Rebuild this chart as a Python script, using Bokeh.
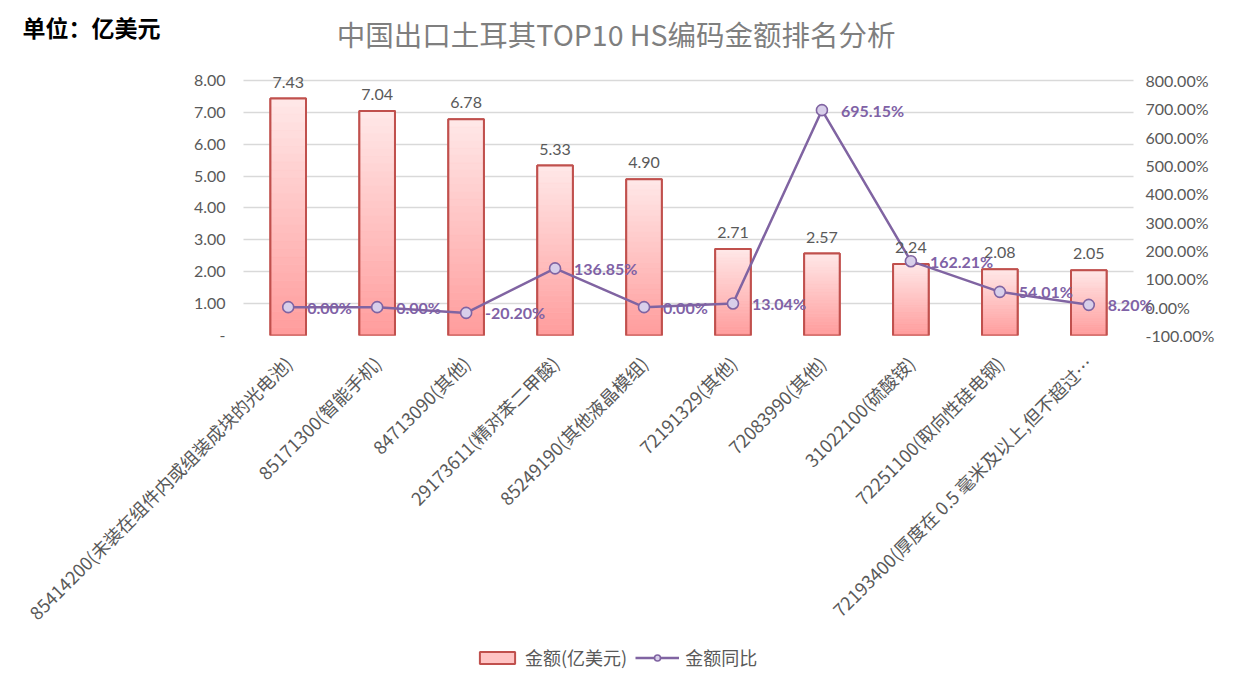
import math
from bokeh.plotting import figure
from bokeh.layouts import column
from bokeh.core.properties import value
from bokeh.models import (ColumnDataSource, FactorRange, Range1d, LinearAxis, FixedTicker,
                          PrintfTickFormatter, LabelSet, Label, Legend, LegendItem)
from bokeh.embed import file_html
from bokeh.resources import INLINE

# ---------------- data ----------------
categories = [
    "85414200(未装在组件内或组装成块的光电池)",
    "85171300(智能手机)",
    "84713090(其他)",
    "29173611(精对苯二甲酸)",
    "85249190(其他液晶模组)",
    "72191329(其他)",
    "72083990(其他)",
    "31022100(硫酸铵)",
    "72251100(取向性硅电钢)",
    "72193400(厚度在 0.5 毫米及以上,但不超过…",
]
amounts = [7.43, 7.04, 6.78, 5.33, 4.90, 2.71, 2.57, 2.24, 2.08, 2.05]
yoy = [0.00, 0.00, -20.20, 136.85, 0.00, 13.04, 695.15, 162.21, 54.01, 8.20]
left_ticks = [0, 1, 2, 3, 4, 5, 6, 7, 8]
right_ticks = [-100, 0, 100, 200, 300, 400, 500, 600, 700, 800]
title_text = "中国出口土耳其TOP10 HS编码金额排名分析"
unit_text = "单位：亿美元"
legend_bar = "金额(亿美元)"
legend_line = "金额同比"

# ---------------- styling ----------------
CJK = "Noto Sans CJK SC"
NUM = "Lato"
GRAY = "#595959"
BAR_LINE = "#C0504D"
LINE_C = "#8064A2"
BAR_FILL = "#FFC4C4"
PT_FILL = "#D8CFEA"
W = 1217
BL, BR = 221, 59          # side borders shared by all three figures
HEAD_H, MAIN_H, FOOT_H = 64, 580, 31
HEAD_B = 12


def bare(fig):
    fig.outline_line_color = None
    fig.xgrid.visible = False
    fig.ygrid.visible = False


# ---------------- header (unit + title) ----------------
head = figure(width=W, height=HEAD_H, title=None, x_range=Range1d(BL, W - BR),
              y_range=Range1d(HEAD_H - HEAD_B, 0), x_axis_type=None,
              output_backend="svg", toolbar_location=None,
              min_border_left=BL, min_border_right=BR, min_border_top=0,
              min_border_bottom=HEAD_B)
bare(head)
hy = head.yaxis[0]
hy.ticker = FixedTicker(ticks=[])
hy.axis_line_color = None
hy.major_tick_line_color = None
hy.minor_tick_line_color = None
hy.axis_label = unit_text
hy.axis_label_orientation = "horizontal"
hy.axis_label_standoff = 61
hy.axis_label_text_font = CJK
hy.axis_label_text_font_size = "23px"
hy.axis_label_text_font_style = "bold"
hy.axis_label_text_color = "#000000"
head.add_layout(Label(x=617, y=33, text=title_text, text_align="center",
                      text_baseline="middle", text_font=CJK, text_font_size="28.5px",
                      text_color="#7F7F7F"))

# ---------------- main chart ----------------
p = figure(width=W, height=MAIN_H, title=None,
           x_range=FactorRange(factors=categories, range_padding=0.05),
           y_range=Range1d(0, 8.5),
           output_backend="svg", toolbar_location=None,
           min_border_left=BL, min_border_right=BR,
           min_border_top=0, min_border_bottom=MAIN_H - 271)
p.outline_line_color = None
p.extra_y_ranges = {"pct": Range1d(-100, 856.25)}

ly = p.yaxis[0]
ly.ticker = FixedTicker(ticks=left_ticks)
ly.formatter = PrintfTickFormatter(format="%.2f")
ly.major_label_overrides = {0: "-"}
ly.axis_line_color = None
ly.major_tick_line_color = None
ly.minor_tick_line_color = None
ly.major_label_standoff = -10
ly.major_label_text_font = NUM
ly.major_label_text_font_size = "16px"
ly.major_label_text_color = GRAY

ry = LinearAxis(y_range_name="pct", ticker=FixedTicker(ticks=right_ticks),
                formatter=PrintfTickFormatter(format="%.2f%%"))
ry.axis_line_color = None
ry.major_tick_line_color = None
ry.minor_tick_line_color = None
ry.major_label_standoff = -16
ry.major_label_text_font = NUM
ry.major_label_text_font_size = "16px"
ry.major_label_text_color = GRAY
p.add_layout(ry, "right")

xa = p.xaxis[0]
xa.major_label_orientation = math.pi / 4
xa.axis_line_color = None
xa.major_tick_line_color = None
xa.minor_tick_line_color = None
xa.major_label_standoff = 18
xa.major_label_text_font = CJK
xa.major_label_text_font_size = "18px"
xa.major_label_text_color = GRAY

p.xgrid.visible = False
yg = p.ygrid[0]
yg.grid_line_color = "#D9D9D9"
yg.grid_line_width = 1.5
if "cross_bounds" in yg.properties():
    yg.cross_bounds = (0, len(categories))

bar_src = ColumnDataSource(dict(x=categories, top=amounts,
                                label=[f"{v:.2f}" for v in amounts]))
p.vbar(x="x", top="top", width=0.4, source=bar_src,
       fill_color=BAR_FILL, line_color=BAR_LINE, line_width=2)


def lerp(c1, c2, t):
    a = [int(c1[i:i + 2], 16) for i in (1, 3, 5)]
    b = [int(c2[i:i + 2], 16) for i in (1, 3, 5)]
    return "#%02x%02x%02x" % tuple(round(a[j] + (b[j] - a[j]) * t) for j in range(3))


N = 30
gx, gb, gt, gc = [], [], [], []
for c, v in zip(categories, amounts):
    for k in range(N):
        gx.append(c)
        gb.append(v * k / N)
        gt.append(v * (k + 1) / N)
        gc.append(lerp("#FF9C9C", "#FFE8E8", (k + 0.5) / N))
grad_src = ColumnDataSource(dict(x=gx, bottom=gb, top=gt, color=gc))
p.vbar(x="x", bottom="bottom", top="top", width=0.4, source=grad_src,
       fill_color="color", line_color="color", line_width=0.6)
p.vbar(x="x", top="top", width=0.4, source=bar_src,
       fill_color=None, line_color=BAR_LINE, line_width=2)

p.add_layout(LabelSet(x="x", y="top", text="label", source=bar_src,
                      text_align="center", text_baseline="bottom", y_offset=11,
                      text_font=value(NUM), text_font_size=value("16px"),
                      text_color=GRAY))

line_src = ColumnDataSource(dict(x=categories, y=yoy,
                                 label=[f"{v:.2f}%" for v in yoy]))
p.line(x="x", y="y", source=line_src, y_range_name="pct",
       line_color=LINE_C, line_width=2.5)
p.scatter(x="x", y="y", source=line_src, y_range_name="pct", size=11,
          fill_color=PT_FILL, line_color=LINE_C, line_width=1.6)
p.add_layout(LabelSet(x="x", y="y", text="label", source=line_src, y_range_name="pct",
                      x_offset=19, text_align="left", text_baseline="middle",
                      text_font=value(NUM), text_font_size=value("16px"),
                      text_font_style="bold", text_color="#7F62A6"))

# ---------------- footer (legend; its swatch renderers are hidden) -------------
foot = figure(width=W, height=FOOT_H, title=None, x_range=p.x_range,
              y_range=Range1d(20, 21), x_axis_type=None, y_axis_type=None,
              output_backend="svg", toolbar_location=None,
              min_border_left=BL, min_border_right=BR, min_border_top=0, min_border_bottom=0)
bare(foot)
foot.extra_y_ranges = {"pct": Range1d(2000, 2001)}
f_bar = foot.vbar(x="x", top="top", width=0.4, source=bar_src, fill_color=BAR_FILL,
                  line_color=BAR_LINE, line_width=2, visible=False)
f_line = foot.line(x="x", y="y", source=line_src, y_range_name="pct",
                   line_color=LINE_C, line_width=2.5, visible=False)
f_pts = foot.scatter(x="x", y="y", source=line_src, y_range_name="pct", size=11,
                     fill_color=PT_FILL, line_color=LINE_C, line_width=1.6,
                     visible=False)
legend = Legend(items=[LegendItem(label=legend_bar, renderers=[f_bar]),
                       LegendItem(label=legend_line, renderers=[f_line, f_pts])],
                orientation="horizontal", location=(254, 5),
                glyph_width=44, glyph_height=15, label_standoff=6, spacing=8,
                padding=0, margin=0, border_line_color=None, background_fill_alpha=0,
                inactive_fill_alpha=0,
                label_text_font=CJK, label_text_font_size="18px",
                label_text_color=GRAY)
foot.add_layout(legend)

layout = column(head, p, foot, spacing=0)
open("out.html", "w").write(file_html(layout, INLINE))
